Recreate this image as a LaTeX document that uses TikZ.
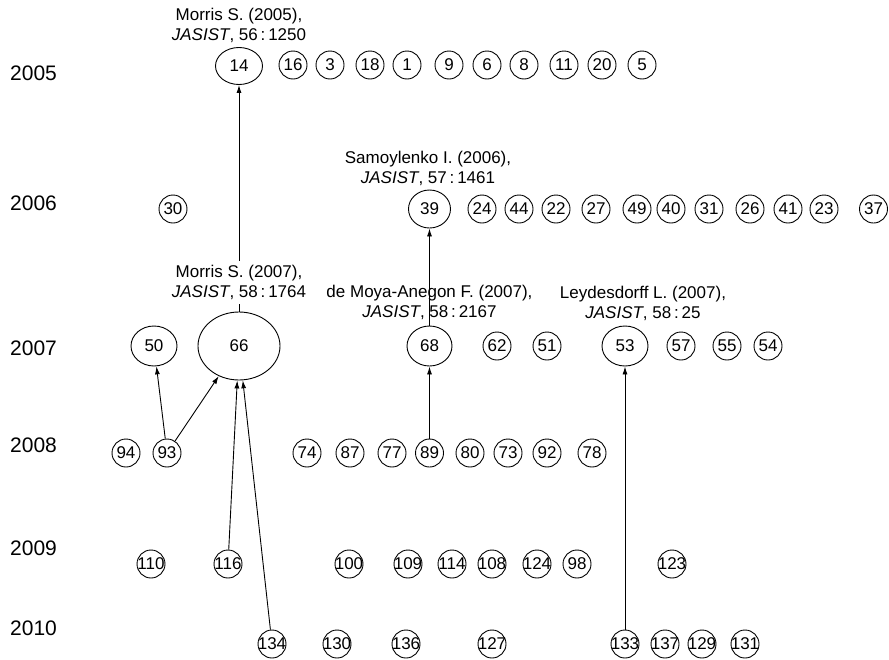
\documentclass[tikz,border=0pt]{standalone}
\usepackage{fontspec}
\setmainfont{Liberation Sans}
\usetikzlibrary{shapes.geometric,arrows.meta}
\newcommand\nfnt{\fontsize{17}{17}\selectfont}
\newcommand\yfnt{\fontsize{21}{21}\selectfont}
\newcommand\cfnt{\fontsize{17}{20}\selectfont}
\tikzset{
  nd/.style={circle, draw, line width=0.9pt, minimum size=28pt, inner sep=0pt, font=\nfnt},
  el/.style={ellipse, draw, line width=0.9pt, inner sep=0pt, font=\nfnt},
  yr/.style={anchor=west, font=\yfnt, inner sep=0pt},
  cite/.style={align=center, font=\cfnt, inner sep=0pt},
  arr/.style={-{Latex[length=8pt,width=5pt]}, line width=0.9pt},
}
\begin{document}
\begin{tikzpicture}[x=1pt,y=-1pt]
\useasboundingbox (0,0) rectangle (889,659);
% year labels
\node[yr] (y2005) at (10,73) {2005};
\node[yr] (y2006) at (10,203) {2006};
\node[yr] (y2007) at (10,348) {2007};
\node[yr] (y2008) at (10,445) {2008};
\node[yr] (y2009) at (10,548) {2009};
\node[yr] (y2010) at (10,628) {2010};
% large nodes
\node[el, minimum width=47pt, minimum height=37pt] (n14) at (239,66) {\makebox[0pt]{14}};
\node[el, minimum width=42pt, minimum height=38pt] (n39) at (429.5,209) {\makebox[0pt]{39}};
\node[el, minimum width=46pt, minimum height=40pt] (n50) at (154,346) {\makebox[0pt]{50}};
\node[el, minimum width=82pt, minimum height=68pt] (n66) at (239,346) {\makebox[0pt]{66}};
\node[el, minimum width=45pt, minimum height=40pt] (n68) at (429.5,346) {\makebox[0pt]{68}};
\node[el, minimum width=46pt, minimum height=40pt] (n53) at (625,346) {\makebox[0pt]{53}};
% small nodes
\foreach \t/\x in {16/293,3/330,18/370,1/407,9/449,6/487,8/524,11/564,20/602,5/642}
  \node[nd] (n\t) at (\x,65) {\makebox[0pt]{\t}};
\foreach \t/\x in {30/173,24/482,44/519,22/556,27/596,49/637,40/671,31/709,26/750,41/788,23/824,37/873.5}
  \node[nd] (n\t) at (\x,209) {\makebox[0pt]{\t}};
\foreach \t/\x in {62/497,51/547,57/681,55/727,54/768}
  \node[nd] (n\t) at (\x,346) {\makebox[0pt]{\t}};
\foreach \t/\x in {94/126,93/167,74/307,87/350,77/392,89/429.5,80/470,73/508,92/547,78/592}
  \node[nd] (n\t) at (\x,453) {\makebox[0pt]{\t}};
\foreach \t/\x in {110/151,116/228,100/349,109/408,114/452,108/492,124/537,98/577,123/672}
  \node[nd] (n\t) at (\x,564) {\makebox[0pt]{\t}};
\foreach \t/\x in {134/272,130/337,136/406,127/492,133/625,137/665,129/702,131/745}
  \node[nd] (n\t) at (\x,644) {\makebox[0pt]{\t}};
% connectors
\draw[arr] (n66) -- (n14);
\draw[arr] (n68) -- (n39);
\draw[arr] (n89) -- (n68);
\draw[arr] (n93) -- (n50);
\draw[arr] (n93) -- (n66);
\draw[arr] (n116) -- (n66);
\draw[arr] (n134) -- (n66);
\draw[arr] (n133) -- (n53);
% citation labels
\node[cite] (c14) at (239,25) {Morris S. (2005),\\\textit{JASIST}, 56\,:\,1250};
\node[cite] (c39) at (428,168) {Samoylenko I. (2006),\\\textit{JASIST}, 57\,:\,1461};
\node[cite, fill=white, inner sep=4pt] (c66) at (239,282.5) {Morris S. (2007),\\\textit{JASIST}, 58\,:\,1764};
\node[cite] (c68) at (429.5,302.5) {de Moya-Anegon F. (2007),\\\textit{JASIST}, 58\,:\,2167};
\node[cite] (c53) at (643,303) {Leydesdorff L. (2007),\\\textit{JASIST}, 58\,:\,25};
\end{tikzpicture}
\end{document}
